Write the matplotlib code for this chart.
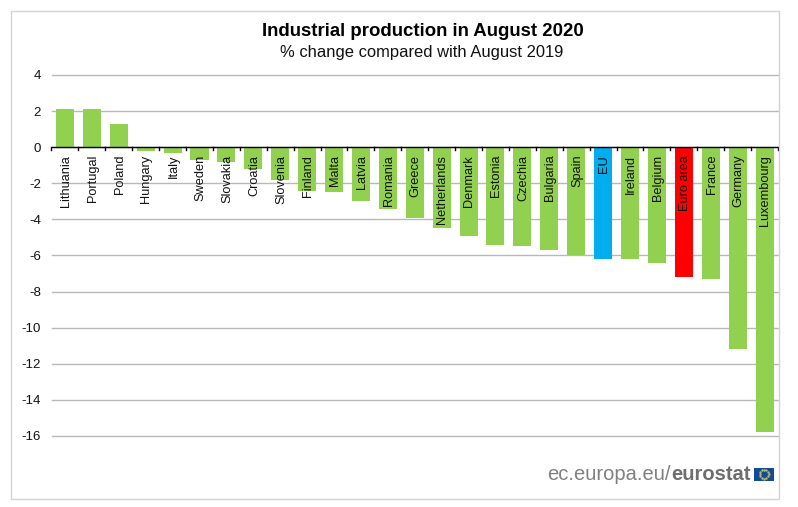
import matplotlib
matplotlib.use("Agg")
import matplotlib.pyplot as plt
from matplotlib.patches import Rectangle
import numpy as np

plt.rcParams['font.family'] = ['Liberation Sans', 'DejaVu Sans']

countries = ["Lithuania", "Portugal", "Poland", "Hungary", "Italy", "Sweden", "Slovakia",
             "Croatia", "Slovenia", "Finland", "Malta", "Latvia", "Romania", "Greece",
             "Netherlands", "Denmark", "Estonia", "Czechia", "Bulgaria", "Spain", "EU",
             "Ireland", "Belgium", "Euro area", "France", "Germany", "Luxembourg"]
values = [2.1, 2.1, 1.3, -0.2, -0.3, -0.7, -0.8, -1.2, -1.8, -2.4, -2.5, -3.0, -3.4, -3.9,
          -4.5, -4.9, -5.4, -5.5, -5.7, -6.0, -6.2, -6.2, -6.4, -7.2, -7.3, -11.2, -15.8]
highlight = {"EU": "#00aeef", "Euro area": "#ff0000"}
yticks = [4, 2, 0, -2, -4, -6, -8, -10, -12, -14, -16]

W, H = 798, 507
fig = plt.figure(figsize=(W/100, H/100), dpi=100, facecolor='white')

# outer frame
fig.add_artist(Rectangle((10.5/W, 1-498.5/H), 768/W, 488/H, transform=fig.transFigure,
                         fill=False, edgecolor='#d4d4d4', linewidth=1))

ax = fig.add_axes([51.5/W, 1-436/H, 726.5/W, 361/H])
colors = [highlight.get(c, '#92d050') for c in countries]
x = np.arange(len(countries))
ax.bar(x, values, width=0.67, color=colors, zorder=2)
ax.set_xlim(-0.5, len(countries)-0.5)
ax.set_ylim(-16, 4)
ax.set_yticks(yticks)
ax.set_yticklabels([str(t) for t in yticks], fontsize=9.5, color='#111111')
ax.tick_params(axis='y', length=0, pad=7.6)
ax.grid(axis='y', color='#b8b8b8', linewidth=1, zorder=1)
ax.set_axisbelow(True)
for s in ax.spines.values():
    s.set_visible(False)
ax.set_xticks([])
for line in ax.get_ygridlines():
    line.set_clip_on(False)

# zero line with category ticks, labels hanging under it
ax.axhline(0, color='black', linewidth=1, zorder=3)
for edge in np.arange(len(countries)+1)-0.5:
    ax.plot([edge, edge], [0, -0.18], color='black', linewidth=1, zorder=3, clip_on=False)
for i, c in enumerate(countries):
    ax.text(i+0.03, -0.42, c, rotation=90, ha='center', va='top', fontsize=9.2, color='#111111', zorder=4)

fig.text(423/W, 1-32/H, "Industrial production in August 2020", ha='center', va='center',
         fontsize=13.4, fontweight='bold', color='black')
fig.text(422/W, 1-53/H, "% change compared with August 2019", ha='center', va='center',
         fontsize=11.9, color='#111111')

# eurostat logo
fig.text(547/W, 1-475/H, "ec.europa.eu/", ha='left', va='center', fontsize=14.5, color='#808080')
fig.text(671/W, 1-475/H, "eurostat", ha='left', va='center', fontsize=14.5, fontweight='bold', color='#6e6e6e')
fig.add_artist(Rectangle((754/W, 1-480.5/H), 20/W, 13/H, transform=fig.transFigure,
                         facecolor='#124a9e', edgecolor='none'))
angles = np.linspace(0, 2*np.pi, 12, endpoint=False)
fig.add_artist(plt.Line2D((764+4.5*np.cos(angles))/W, (1-474/H)+4.5*np.sin(angles)/H, linestyle='none',
                          marker='o', markersize=0.7, color='#c8c04a', transform=fig.transFigure))

fig.savefig("out.png", dpi=100)
